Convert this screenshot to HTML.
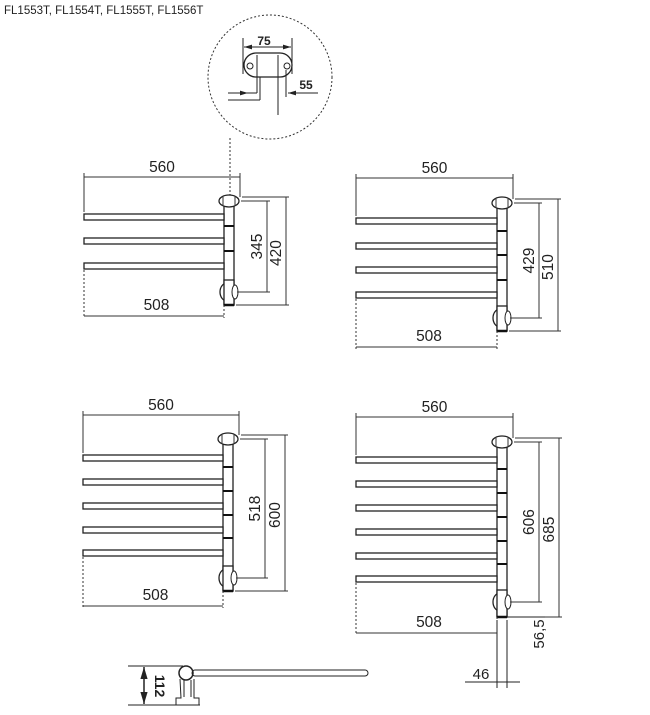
<!DOCTYPE html>
<html><head><meta charset="utf-8"><style>
html,body{margin:0;padding:0;background:#fff}
svg{display:block}
text{font-family:"Liberation Sans",Arial,sans-serif;fill:#222}
</style></head><body>
<svg id="s" width="650" height="715" viewBox="0 0 650 715" xmlns="http://www.w3.org/2000/svg">
<defs>
<marker id="a" viewBox="0 0 10 10" refX="10" refY="5" markerWidth="8" markerHeight="8" orient="auto-start-reverse"><path d="M0,2L10,5L0,8z" fill="#222"/></marker>
</defs>
<text x="4" y="14" font-size="11.5">FL1553T, FL1554T, FL1555T, FL1556T</text>
<circle cx="270" cy="77" r="62" fill="none" stroke="#333" stroke-width="1" stroke-dasharray="2,2"/>
<line x1="230" y1="138" x2="230" y2="198" stroke="#333" stroke-dasharray="2,2"/>
<g stroke="#222" fill="none" stroke-width="1">
<line x1="243" y1="38" x2="243" y2="74"/><line x1="292" y1="38" x2="292" y2="74"/>
<line x1="244" y1="47" x2="291" y2="47" marker-start="url(#a)" marker-end="url(#a)"/>
<rect x="244" y="53" width="48" height="24" rx="12" stroke-width="1.3"/>
<circle cx="250" cy="66" r="3"/><circle cx="287" cy="66" r="3"/>
<line x1="257" y1="55" x2="257" y2="93"/><line x1="278" y1="55" x2="278" y2="115"/>
<line x1="228" y1="93" x2="257" y2="93"/><line x1="228" y1="100" x2="260" y2="100"/>
<line x1="260" y1="100" x2="260" y2="77"/>
<line x1="286" y1="70" x2="286" y2="97"/>
<line x1="240" y1="93" x2="248" y2="93" marker-end="url(#a)"/>
<line x1="318" y1="93" x2="288" y2="93" marker-end="url(#a)"/>
</g>
<text x="264" y="45" font-size="12" font-weight="bold" text-anchor="middle">75</text>
<text x="306" y="89" font-size="12" font-weight="bold" text-anchor="middle">55</text>
<g id="units"></g>
<g stroke="#222" fill="none">
<line x1="128" y1="666" x2="183" y2="666"/><line x1="128" y1="705" x2="200" y2="705"/>
<line x1="144" y1="667" x2="144" y2="704" marker-start="url(#a)" marker-end="url(#a)" stroke-width="1.5"/>
<circle cx="186" cy="673" r="7" stroke-width="1.5"/>
<rect x="192" y="670" width="176" height="6" rx="3"/>
<path d="M180,679 L181,698 L176,698 L176,705 L199,705 L199,698 L194,698 L194,679"/>
<line x1="184" y1="680" x2="184" y2="697"/><line x1="191" y1="680" x2="191" y2="697"/>
</g>
<text transform="translate(155,686) rotate(90)" font-size="14" font-weight="bold" text-anchor="middle">112</text>
<g stroke="#222" fill="none">
<line x1="497" y1="620" x2="497" y2="688"/><line x1="507" y1="620" x2="507" y2="688"/>
<line x1="465" y1="682" x2="520" y2="682"/>
<line x1="507" y1="617" x2="545" y2="617"/>
</g>
<text x="481" y="679" font-size="15" text-anchor="middle">46</text>
<text transform="translate(544,634) rotate(-90)" font-size="15" text-anchor="middle">56,5</text>
</svg>
<script>
var NS="http://www.w3.org/2000/svg",G=document.getElementById("units");
function el(t,a,txt){var e=document.createElementNS(NS,t);for(var k in a)e.setAttribute(k,a[k]);if(txt)e.textContent=txt;G.appendChild(e);return e;}
function L(x1,y1,x2,y2,ex){var a={x1:x1,y1:y1,x2:x2,y2:y2,stroke:"#333","stroke-width":1,fill:"none"};for(var k in ex)a[k]=ex[k];return el("line",a);}
function unit(u){
 var x0=u.x0,cx=u.cx,rt=cx+11;
 L(x0,u.y560-4,x0,u.bars[0]-2);L(rt,u.y560-4,rt,u.yBr-4);
 L(x0,u.y560,rt,u.y560);
 el("text",{x:(x0+rt)/2,y:u.y560-5,"font-size":15.5,"text-anchor":"middle"},"560");
 el("rect",{x:cx-5,y:u.yBr,width:10,height:u.yBot-u.yBr,fill:"#fff",stroke:"#222","stroke-width":1.3});
 u.bars.forEach(function(b,i){
  el("rect",{x:x0,y:b,width:cx-5-x0,height:6,fill:"#fff",stroke:"#222","stroke-width":1.3});
  if(i>0)L(cx-5,b-12,cx+5,b-12,{stroke:"#111","stroke-width":2});
 });
 var lb=u.bars[u.bars.length-1];
 el("ellipse",{cx:cx,cy:u.yBr,rx:10,ry:6,fill:"#fff",stroke:"#222","stroke-width":1.3});
 L(cx-6,u.yBr-5,cx-6,u.yBr+5);L(cx+6,u.yBr-5,cx+6,u.yBr+5);
 el("ellipse",{cx:cx-2,cy:u.yV,rx:7,ry:9,fill:"#fff",stroke:"#222","stroke-width":1.3});
 el("rect",{x:cx-5,y:u.yV-12,width:10,height:u.yBot-u.yV+12,fill:"#fff",stroke:"#222","stroke-width":1.3});
 L(cx-5,u.yBot,cx+5,u.yBot,{"stroke-width":2.5,stroke:"#111"});
 el("ellipse",{cx:cx+6,cy:u.yV,rx:3,ry:7,fill:"#fff",stroke:"#222"});
 L(x0,lb+7,x0,u.y508+2,{"stroke-dasharray":"2,2"});
 L(cx-5,u.yBot,cx-5,u.y508+2,{"stroke-dasharray":"2,2"});
 L(x0,u.y508,cx-5,u.y508);
 el("text",{x:(x0+cx)/2,y:u.y508-6,"font-size":15.5,"text-anchor":"middle"},"508");
 L(cx+12,u.yBr,u.d1+3,u.yBr);L(cx+8,u.yV,u.d1+3,u.yV);
 L(rt+2,u.yBr-4,u.d2+3,u.yBr-4);L(cx+7,u.yBot,u.d2+3,u.yBot);
 L(u.d1,u.yBr,u.d1,u.yV);L(u.d2,u.yBr-4,u.d2,u.yBot);
 el("text",{transform:"translate("+(u.d1-5)+","+((u.yBr+u.yV)/2)+") rotate(-90)","font-size":15.5,"text-anchor":"middle"},u.l1);
 el("text",{transform:"translate("+(u.d2-5)+","+((u.yBr+u.yBot)/2)+") rotate(-90)","font-size":15.5,"text-anchor":"middle"},u.l2);
}
unit({x0:84,cx:229,y560:177,yBr:201,bars:[214,238,263],yV:292,yBot:305,y508:316,d1:267,d2:286,l1:"345",l2:"420"});
unit({x0:356,cx:502,y560:178,yBr:203,bars:[218,243,267,292],yV:318,yBot:331,y508:347,d1:539,d2:558,l1:"429",l2:"510"});
unit({x0:83,cx:228,y560:415,yBr:439,bars:[455,479,503,527,550],yV:578,yBot:591,y508:606,d1:265,d2:285,l1:"518",l2:"600"});
unit({x0:356,cx:502,y560:417,yBr:442,bars:[457,481,505,529,553,576],yV:602,yBot:617,y508:633,d1:539,d2:559,l1:"606",l2:"685"});
</script>
</body></html>
